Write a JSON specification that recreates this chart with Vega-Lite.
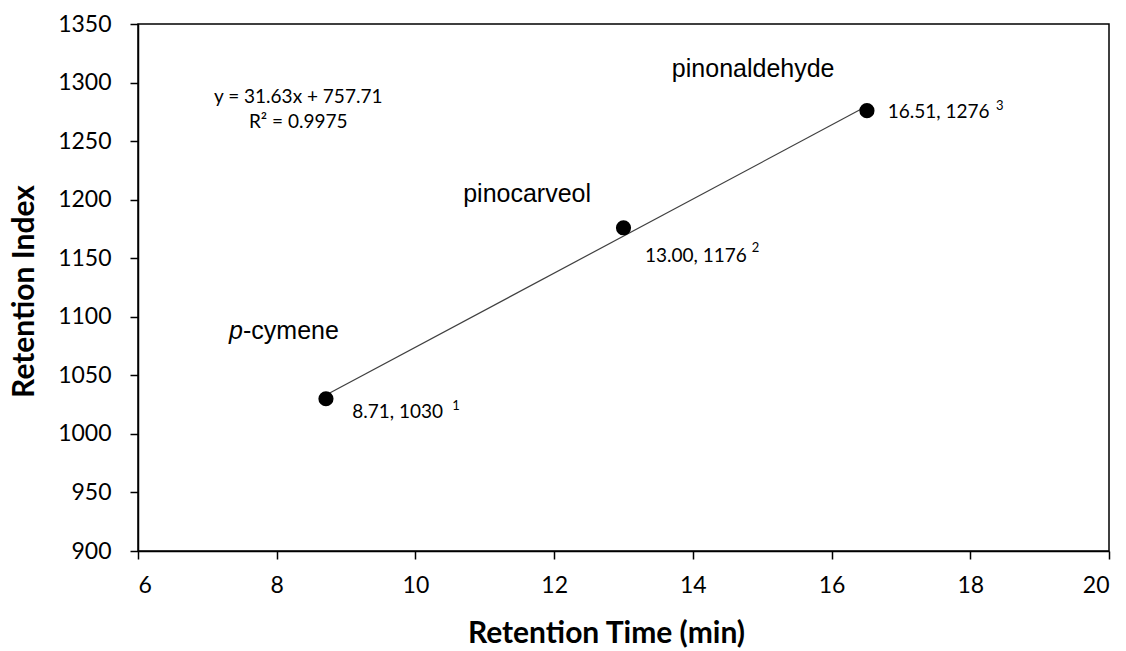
{
  "$schema": "https://vega.github.io/schema/vega-lite/v6.json",
  "autosize": "none",
  "width": 971,
  "height": 527,
  "padding": {"left": 138, "top": 24, "right": 17, "bottom": 100},
  "background": "white",
  "config": {
    "view": {"stroke": "black", "strokeWidth": 1.5},
    "axis": {"grid": false, "domainColor": "black", "tickColor": "black", "tickSize": 8, "domainWidth": 1.5, "tickWidth": 1.5, "labelFont": "Lato", "labelFontSize": 23, "labelColor": "black", "titleFont": "Lato", "titleFontWeight": "bold", "titleFontSize": 30, "titleColor": "black"}
  },
  "datasets": {
    "points": [
      {"rt": 8.71, "ri": 1030},
      {"rt": 13.00, "ri": 1176},
      {"rt": 16.51, "ri": 1276}
    ],
    "valueLabels": [
      {"x": 9.09, "y": 1019, "label": "8.71, 1030"},
      {"x": 13.31, "y": 1152, "label": "13.00, 1176"},
      {"x": 16.81, "y": 1275, "label": "16.51, 1276"}
    ],
    "superscripts": [
      {"x": 10.53, "y": 1024, "label": "1"},
      {"x": 14.85, "y": 1158.4, "label": "2"},
      {"x": 18.37, "y": 1280, "label": "3"}
    ],
    "names": [
      {"x": 14.87, "y": 1312, "label": "pinonaldehyde"},
      {"x": 11.61, "y": 1205, "label": "pinocarveol"}
    ],
    "equation": [
      {"x": 8.31, "y": 1288, "label": "y = 31.63x + 757.71"},
      {"x": 8.31, "y": 1266, "label": "R² = 0.9975"}
    ],
    "cymeneItalic": [{"x": 7.514, "y": 1088, "label": "p"}],
    "cymeneRest": [{"x": 7.514, "y": 1088, "label": "-cymene"}]
  },
  "layer": [
    {
      "data": {"name": "points"},
      "transform": [{"regression": "ri", "on": "rt"}],
      "mark": {"type": "line", "color": "#404040", "strokeWidth": 1.2},
      "encoding": {
        "x": {"field": "rt", "type": "quantitative", "scale": {"domain": [6, 20]}, "axis": {"values": [6, 8, 10, 12, 14, 16, 18, 20], "format": "d", "title": "Retention Time (min)", "labelPadding": 15, "titleX": 468, "titleY": 91, "titleAnchor": "middle", "titleBaseline": "alphabetic"}},
        "y": {"field": "ri", "type": "quantitative", "scale": {"domain": [900, 1350]}, "axis": {"values": [900, 950, 1000, 1050, 1100, 1150, 1200, 1250, 1300, 1350], "format": "d", "title": "Retention Index", "labelPadding": 19, "titleX": -105, "titleY": 267, "titleAnchor": "middle", "titleBaseline": "alphabetic"}}
      }
    },
    {
      "data": {"name": "points"},
      "mark": {"type": "circle", "color": "black", "opacity": 1, "size": 230},
      "encoding": {
        "x": {"field": "rt", "type": "quantitative"},
        "y": {"field": "ri", "type": "quantitative"}
      }
    },
    {
      "data": {"name": "valueLabels"},
      "mark": {"type": "text", "align": "left", "baseline": "middle", "font": "Lato", "fontSize": 19, "color": "black"},
      "encoding": {
        "x": {"field": "x", "type": "quantitative"},
        "y": {"field": "y", "type": "quantitative"},
        "text": {"field": "label"}
      }
    },
    {
      "data": {"name": "superscripts"},
      "mark": {"type": "text", "align": "left", "baseline": "middle", "font": "Lato", "fontSize": 13, "color": "black"},
      "encoding": {
        "x": {"field": "x", "type": "quantitative"},
        "y": {"field": "y", "type": "quantitative"},
        "text": {"field": "label"}
      }
    },
    {
      "data": {"name": "equation"},
      "mark": {"type": "text", "align": "center", "baseline": "middle", "font": "Lato", "fontSize": 19, "color": "black"},
      "encoding": {
        "x": {"field": "x", "type": "quantitative"},
        "y": {"field": "y", "type": "quantitative"},
        "text": {"field": "label"}
      }
    },
    {
      "data": {"name": "names"},
      "mark": {"type": "text", "align": "center", "baseline": "middle", "font": "Liberation Sans", "fontSize": 25, "color": "black"},
      "encoding": {
        "x": {"field": "x", "type": "quantitative"},
        "y": {"field": "y", "type": "quantitative"},
        "text": {"field": "label"}
      }
    },
    {
      "data": {"name": "cymeneItalic"},
      "mark": {"type": "text", "align": "right", "baseline": "middle", "font": "Liberation Sans", "fontSize": 25, "fontStyle": "italic", "color": "black"},
      "encoding": {
        "x": {"field": "x", "type": "quantitative"},
        "y": {"field": "y", "type": "quantitative"},
        "text": {"field": "label"}
      }
    },
    {
      "data": {"name": "cymeneRest"},
      "mark": {"type": "text", "align": "left", "baseline": "middle", "font": "Liberation Sans", "fontSize": 25, "color": "black"},
      "encoding": {
        "x": {"field": "x", "type": "quantitative"},
        "y": {"field": "y", "type": "quantitative"},
        "text": {"field": "label"}
      }
    }
  ]
}
